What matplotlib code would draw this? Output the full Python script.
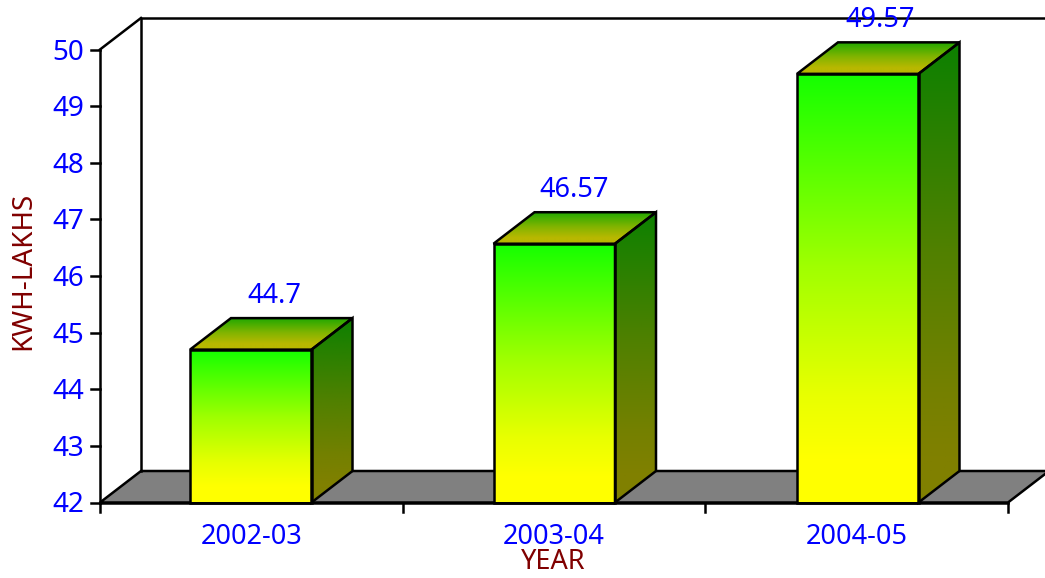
import numpy as np
import matplotlib
matplotlib.use('Agg')
import matplotlib.pyplot as plt
from matplotlib.colors import LinearSegmentedColormap
from matplotlib.patches import Polygon

years = ['2002-03', '2003-04', '2004-05']
kwh = [44.7, 46.57, 49.57]
value_labels = ['44.7', '46.57', '49.57']
yticks = [42, 43, 44, 45, 46, 47, 48, 49, 50]

plt.rcParams['font.family'] = ['Noto Sans', 'DejaVu Sans']

W, H = 1045, 578
fig = plt.figure(figsize=(W/100, H/100), dpi=100)
# axes covers the front plane of the chart, data scale inside
x0, x1, y0, y1 = 100, 1008, 502.5, 49.5
ax = fig.add_axes([x0/W, 1-y0/H, (x1-x0)/W, (y0-y1)/H])
ax.patch.set_alpha(0)
for s in ax.spines.values():
    s.set_visible(False)
ax.set_xticks([])
ax.set_yticks([])

# depth of the 3d look, in pixels
dx, dy = 41, 31.5
px_x = 3/(x1-x0)
px_y = 8/(y0-y1)
ddx = dx*px_x
ddy = dy*px_y
LW = 1.8

def poly(pts, **kw):
    p = Polygon(pts, closed=True, clip_on=False, **kw)
    ax.add_patch(p)
    return p

def grad(corners, cmap, extent_box, z=3):
    # gradient image clipped by a polygon
    g = np.linspace(0, 1, 256).reshape(-1, 1)
    im = ax.imshow(g, cmap=cmap, aspect='auto', origin='upper', extent=extent_box, zorder=z)
    clip = Polygon(corners, closed=True, transform=ax.transData, fill=False, edgecolor='none', clip_on=False)
    ax.add_patch(clip)
    im.set_clip_box(fig.bbox)  # the tallest bar goes above the axes
    im.set_clip_path(clip)

# floor
poly([(0, 42), (ddx, 42+ddy), (3+ddx, 42+ddy), (3, 42)], facecolor='#808080', edgecolor='black', lw=LW, zorder=1)
# back wall edges
ax.plot([ddx, ddx, 3+ddx], [42+ddy, 50+ddy, 50+ddy], color='black', lw=LW, clip_on=False, zorder=1)
ax.plot([0, ddx], [50, 50+ddy], color='black', lw=LW, clip_on=False, zorder=1)
ax.plot([0, 0], [42, 50], color='black', lw=LW, clip_on=False, zorder=1)
ax.plot([0, 3], [42, 42], color='black', lw=LW, clip_on=False, zorder=6)

front = LinearSegmentedColormap.from_list('front', [(0, '#14ff00'), (0.45, '#a0ff00'), (0.75, '#e8ff00'), (0.9, '#ffff00'), (1, '#ffff00')])
side = LinearSegmentedColormap.from_list('side', [(0, '#0c8000'), (0.45, '#508000'), (0.75, '#748000'), (0.9, '#808000'), (1, '#808000')])
top = LinearSegmentedColormap.from_list('top', [(0, '#20a800'), (0.45, '#80b400'), (0.8, '#b8b800'), (1, '#b8b800')])

bar_w = 121.5*px_x
bar_step = 303.5*px_x
label_dx = [3, -1, 2]
for i, v in enumerate(kwh):
    l = i*bar_step + 90*px_x
    r = l + bar_w
    grad([(l, 42), (l, v), (r, v), (r, 42)], front, (l, r, 42, v))
    grad([(r, 42), (r, v), (r+ddx, v+ddy), (r+ddx, 42+ddy)], side, (r, r+ddx, 42, v+ddy))
    grad([(l, v), (l+ddx, v+ddy), (r+ddx, v+ddy), (r, v)], top, (l, r+ddx, v, v+ddy))
    poly([(l, 42), (l, v), (r, v), (r, 42)], fill=False, edgecolor='black', lw=LW, zorder=5)
    poly([(r, 42), (r, v), (r+ddx, v+ddy), (r+ddx, 42+ddy)], fill=False, edgecolor='black', lw=LW, zorder=5)
    poly([(l, v), (l+ddx, v+ddy), (r+ddx, v+ddy), (r, v)], fill=False, edgecolor='black', lw=LW, zorder=5)
    ax.annotate(value_labels[i], ((l+r)/2+ddx/2, v+ddy), xytext=(label_dx[i], 22), textcoords='offset pixels',
                ha='center', va='center', color='#0000ff', fontsize=19.5, annotation_clip=False, zorder=7)

ax.set_xlim(0, 3)
ax.set_ylim(42, 50)

# ticks by hand so they sit on the 3d frame
for t in yticks:
    ax.plot([-9*px_x, 0], [t, t], color='black', lw=LW, clip_on=False)
    ax.annotate(str(t), (0, t), xytext=(-16, -3), textcoords='offset pixels', ha='right', va='center',
                color='#0000ff', fontsize=20, annotation_clip=False)
for i in range(4):
    ax.plot([i, i], [42, 42-9*px_y], color='black', lw=LW, clip_on=False)
for i, lab in enumerate(years):
    ax.annotate(lab, (i+0.5, 42), xytext=(0, -35), textcoords='offset pixels', ha='center', va='center',
                color='#0000ff', fontsize=19.5, annotation_clip=False)

fig.text(553/W, 1-562/H, 'YEAR', color='#800000', fontsize=19.5, ha='center', va='center')
fig.text(23/W, 1-271/H, 'KWH-LAKHS', color='#800000', fontsize=20, rotation=90, ha='center', va='center')

fig.savefig('out.png', dpi=100)
